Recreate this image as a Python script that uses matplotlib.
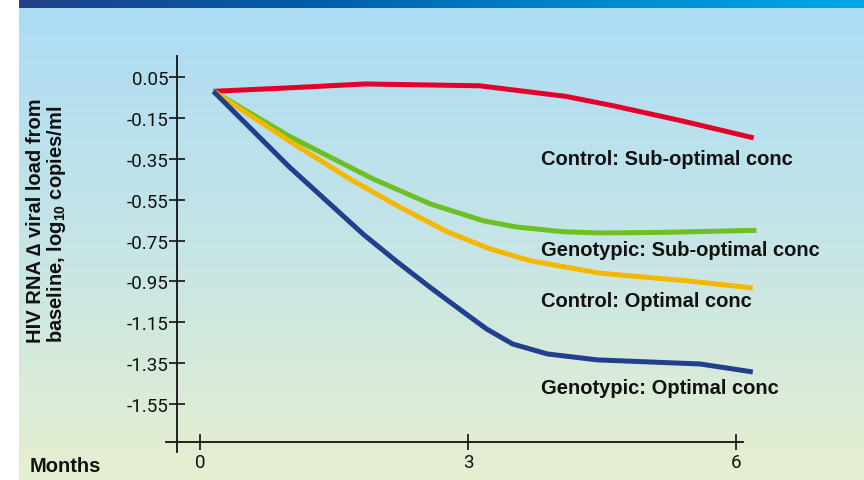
import numpy as np
import matplotlib
matplotlib.use("Agg")
import matplotlib.pyplot as plt
from matplotlib.colors import LinearSegmentedColormap

plt.rcParams['font.family'] = ['Roboto', 'DejaVu Sans']
plt.rcParams['mathtext.fontset'] = 'custom'
plt.rcParams['mathtext.rm'] = 'Liberation Sans'
plt.rcParams['mathtext.bf'] = 'Liberation Sans:bold'

# Change in HIV RNA viral load from baseline (log10 copies/ml) by month
ctrl_sub_months = [0.15, 1.0, 1.85, 3.13, 4.1, 4.62, 5.4, 6.2]
ctrl_sub_vals = [-0.02, -0.003, 0.016, 0.007, -0.045, -0.09, -0.165, -0.248]

geno_sub_months = [0.15, 1.0, 1.94, 2.58, 3.17, 3.55, 4.07, 4.48, 5.2, 6.23]
geno_sub_vals = [-0.02, -0.24, -0.449, -0.571, -0.653, -0.684, -0.707, -0.713, -0.71, -0.70]

ctrl_opt_months = [0.15, 1.0, 1.68, 2.21, 2.77, 3.25, 3.7, 4.48, 5.45, 6.19]
ctrl_opt_vals = [-0.02, -0.263, -0.449, -0.58, -0.708, -0.791, -0.849, -0.91, -0.947, -0.982]

geno_opt_months = [0.15, 1.0, 1.83, 2.21, 2.58, 2.95, 3.21, 3.5, 3.89, 4.45, 5.6, 6.19]
geno_opt_vals = [-0.02, -0.39, -0.72, -0.855, -0.98, -1.10, -1.183, -1.256, -1.305, -1.334, -1.354, -1.393]

series_labels = ["Control: Sub-optimal conc", "Genotypic: Sub-optimal conc",
                 "Control: Optimal conc", "Genotypic: Optimal conc"]
series_colors = ["#e3002a", "#6cc024", "#f5b800", "#213f8c"]
label_y = [-0.347, -0.795, -1.045, -1.467]

y_ticks = [0.05, -0.15, -0.35, -0.55, -0.75, -0.95, -1.15, -1.35, -1.55]
x_ticks = [0, 3, 6]

W, H = 864, 481
fig = plt.figure(figsize=(W / 100, H / 100), dpi=100)

# Background panel with vertical gradient and a top banner
bg = fig.add_axes([0, 0, 1, 1], zorder=-10)
bg.set_xlim(0, W)
bg.set_ylim(H, 0)
bg.axis("off")
grad_cmap = LinearSegmentedColormap.from_list("bg", ["#acdcf5", "#c6e5e6", "#e6efd0"])
grad = np.linspace(0, 1, 256).reshape(-1, 1)
bg.imshow(grad, cmap=grad_cmap, extent=[19, W, H, 9], aspect="auto")
banner_cmap = LinearSegmentedColormap.from_list("banner", ["#23418a", "#005ca8", "#0086cc", "#00a8e8"])
bgrad = np.linspace(0, 1, 256).reshape(1, -1)
bg.imshow(bgrad, cmap=banner_cmap, extent=[19, W, 9, 0], aspect="auto")

# Plot axes
left_px, right_px, top_px, bot_px = 166, 743, 57, 453
ax = fig.add_axes([left_px / W, 1 - bot_px / H, (right_px - left_px) / W, (bot_px - top_px) / H])
ax.patch.set_alpha(0)
x0 = -34 / 89.3
x1 = (right_px - 200) / 89.3
ypx = 204.4
y_top = 0.05 + 21 / ypx
y_bot = 0.05 - (bot_px - 78) / ypx
ax.set_xlim(x0, x1)
ax.set_ylim(y_bot, y_top)

for s in ["top", "right"]:
    ax.spines[s].set_visible(False)
ax.spines["left"].set_position(("data", (176.7 - 200) / 89.3))
ax.spines["bottom"].set_position(("data", 0.05 - (442.7 - 78) / ypx))
for s in ["left", "bottom"]:
    ax.spines[s].set_linewidth(1.3)
    ax.spines[s].set_color("#111111")

ax.set_yticks(y_ticks)
ax.set_yticklabels([f"{v:.2f}" for v in y_ticks])
ax.set_xticks(x_ticks)
ax.set_xticklabels([str(v) for v in x_ticks])
ax.tick_params(axis="both", direction="inout", length=12, width=1.2, color="#111111",
               labelsize=13.5, labelcolor="#111111")
ax.tick_params(axis="y", pad=0)
ax.tick_params(axis="x", pad=2)

all_series = [
    (ctrl_sub_months, ctrl_sub_vals),
    (geno_sub_months, geno_sub_vals),
    (ctrl_opt_months, ctrl_opt_vals),
    (geno_opt_months, geno_opt_vals),
]
for (m, v), c in zip(all_series, series_colors):
    ax.plot(m, v, color=c, lw=3.6, solid_capstyle="butt", solid_joinstyle="round", clip_on=False)

for lab, ly in zip(series_labels, label_y):
    ax.text((541 - 200) / 89.3, ly, lab, family="Liberation Sans", fontweight="bold",
            fontsize=14.5, color="#111111", va="center", ha="left")

fig.text(30 / W, 1 - 467 / H, "Months", family="Liberation Sans", fontweight="bold",
         fontsize=14.5, color="#111111", va="center", ha="left")
fig.text(47 / W, 1 - 221 / H,
         "HIV RNA \u2206 viral load from\nbaseline, log$_{\\mathbf{10}}$ copies/ml",
         family="Liberation Sans", fontweight="bold", fontsize=14.5, color="#111111",
         rotation=90, va="center", ha="center", linespacing=0.95, multialignment="left")

fig.savefig("out.png", dpi=100)
